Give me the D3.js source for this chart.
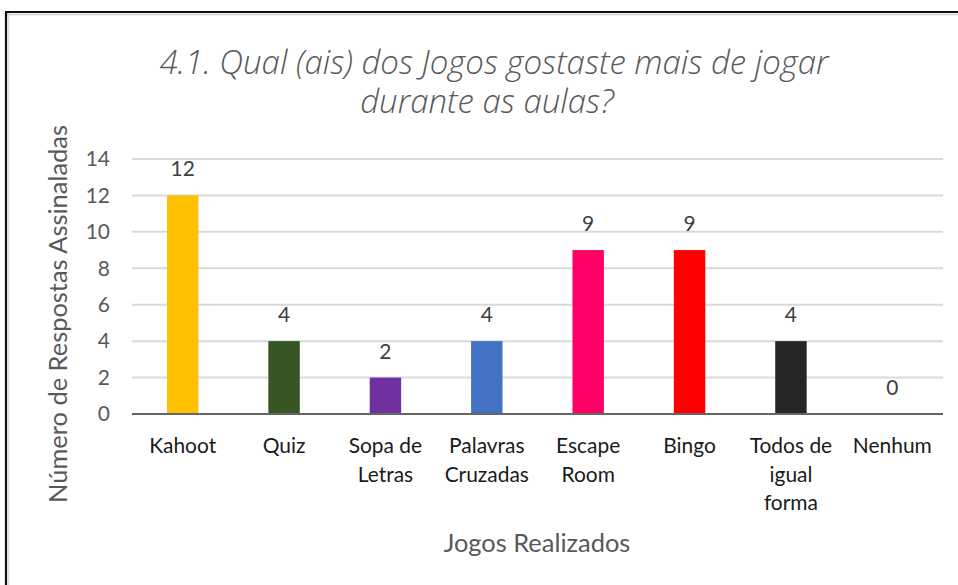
<!DOCTYPE html>
<html>
<head>
<meta charset="utf-8">
<script src="https://cdn.jsdelivr.net/npm/d3@7"></script>
<style>
  html, body { margin: 0; padding: 0; background: #fff; }
  svg { display: block; }
  text { font-family: Lato, "Open Sans", "Liberation Sans", sans-serif; }
  text.title { font-family: "Open Sans", "Noto Sans", sans-serif; font-style: italic; font-weight: 300; }
</style>
</head>
<body>
<svg id="chart" width="958" height="585"></svg>
<script>
// Chart data
const titleLines = ["4.1. Qual (ais) dos Jogos gostaste mais de jogar", "durante as aulas?"];
const categories = ["Kahoot", "Quiz", "Sopa de\nLetras", "Palavras\nCruzadas", "Escape\nRoom", "Bingo", "Todos de\nigual\nforma", "Nenhum"];
const values = [12, 4, 2, 4, 9, 9, 4, 0];
const barColors = ["#FFC000", "#375623", "#7030A0", "#4472C4", "#FF0066", "#FF0000", "#262626", "#A5A5A5"];
const yTicks = [0, 2, 4, 6, 8, 10, 12, 14];
const yAxisTitle = "Número de Respostas Assinaladas";
const xAxisTitle = "Jogos Realizados";

const svg = d3.select("#chart");
const W = 958, H = 585;

svg.append("rect").attr("width", W).attr("height", H).attr("fill", "#fff");

// Frame (top and left edges with a soft shadow)
svg.append("line").attr("x1", 5).attr("x2", W).attr("y1", 14.5).attr("y2", 14.5)
  .attr("stroke", "#cfcfcf").attr("stroke-width", 1.5);
svg.append("line").attr("x1", 8.5).attr("x2", 8.5).attr("y1", 12).attr("y2", H)
  .attr("stroke", "#dcdcdc").attr("stroke-width", 1.5);
svg.append("line").attr("x1", 5).attr("x2", W).attr("y1", 12).attr("y2", 12)
  .attr("stroke", "#111").attr("stroke-width", 2.2);
svg.append("line").attr("x1", 6).attr("x2", 6).attr("y1", 11).attr("y2", H)
  .attr("stroke", "#111").attr("stroke-width", 2.2);

// Fit a text element's font-size so its rendered width equals target
function fitSize(sel, target) {
  sel.attr("font-size", 100);
  const w = sel.node().getComputedTextLength();
  return 100 * target / w;
}

const plot = { left: 132, right: 943, top: 159, bottom: 414 };

const x = d3.scaleBand()
  .domain(d3.range(categories.length))
  .range([plot.left, plot.right])
  .paddingInner(0.69)
  .paddingOuter(0.345);

const y = d3.scaleLinear().domain([0, 14]).range([plot.bottom, plot.top]);

// Gridlines
svg.append("g").selectAll("line")
  .data(yTicks.filter(d => d > 0))
  .join("line")
  .attr("x1", plot.left).attr("x2", plot.right)
  .attr("y1", d => y(d)).attr("y2", d => y(d))
  .attr("stroke", "#d9d9d9").attr("stroke-width", 2);

// Y axis tick labels
const yAxis = d3.axisLeft(y).tickValues(yTicks).tickSize(0).tickPadding(0);
const gy = svg.append("g").attr("transform", `translate(${plot.left - 22},0)`).call(yAxis);
gy.select(".domain").remove();
gy.selectAll("text").attr("fill", "#595959");

// Bars
svg.append("g").selectAll("rect")
  .data(values)
  .join("rect")
  .attr("x", (d, i) => x(i))
  .attr("width", x.bandwidth())
  .attr("y", d => y(d))
  .attr("height", d => y(0) - y(d))
  .attr("fill", (d, i) => barColors[i]);

// Baseline axis
svg.append("line")
  .attr("x1", plot.left).attr("x2", plot.right)
  .attr("y1", y(0)).attr("y2", y(0))
  .attr("stroke", "#666").attr("stroke-width", 2);

// Value labels
const valLabels = svg.append("g").selectAll("text")
  .data(values)
  .join("text")
  .attr("x", (d, i) => x(i) + x.bandwidth() / 2)
  .attr("y", d => y(d) - 19)
  .attr("text-anchor", "middle")
  .attr("fill", "#404040")
  .text(d => d);

// Category labels (wrapped)
const catG = svg.append("g");
const catText = catG.selectAll("text")
  .data(categories)
  .join("text")
  .attr("text-anchor", "middle")
  .attr("fill", "#1a1a1a");
catText.each(function (d, i) {
  const t = d3.select(this);
  d.split("\n").forEach((line, k) => {
    t.append("tspan")
      .attr("x", x(i) + x.bandwidth() / 2)
      .attr("y", 453 + k * 28.5)
      .text(line);
  });
});

// Axis titles
const xt = svg.append("text")
  .attr("x", 537).attr("y", 552)
  .attr("text-anchor", "middle")
  .attr("fill", "#595959")
  .text(xAxisTitle);

const yt = svg.append("text")
  .attr("transform", "translate(67,314) rotate(-90)")
  .attr("text-anchor", "middle")
  .attr("fill", "#595959")
  .text(yAxisTitle);

// Chart title (two centred lines)
const titleG = svg.append("g").attr("fill", "#595959");
const t1 = titleG.append("text").attr("class", "title")
  .attr("x", 494).attr("y", 74)
  .attr("text-anchor", "middle")
  .text(titleLines[0]);
const t2 = titleG.append("text").attr("class", "title")
  .attr("x", 487).attr("y", 113)
  .attr("text-anchor", "middle")
  .text(titleLines[1]);
const titleSize = Math.min(33, fitSize(t1, 715));
t1.attr("font-size", titleSize);
t2.attr("font-size", titleSize);

// Size the remaining fonts to the intended text widths
const probe = svg.append("text").text("Kahoot");
const labelSize = fitSize(probe, 67);
probe.remove();
catText.attr("font-size", labelSize);
valLabels.attr("font-size", labelSize);
gy.selectAll("text").attr("font-size", labelSize).attr("font-family", null);

const axisTitleSize = fitSize(yt, 378);
yt.attr("font-size", axisTitleSize);
xt.attr("font-size", axisTitleSize);
</script>
</body>
</html>
